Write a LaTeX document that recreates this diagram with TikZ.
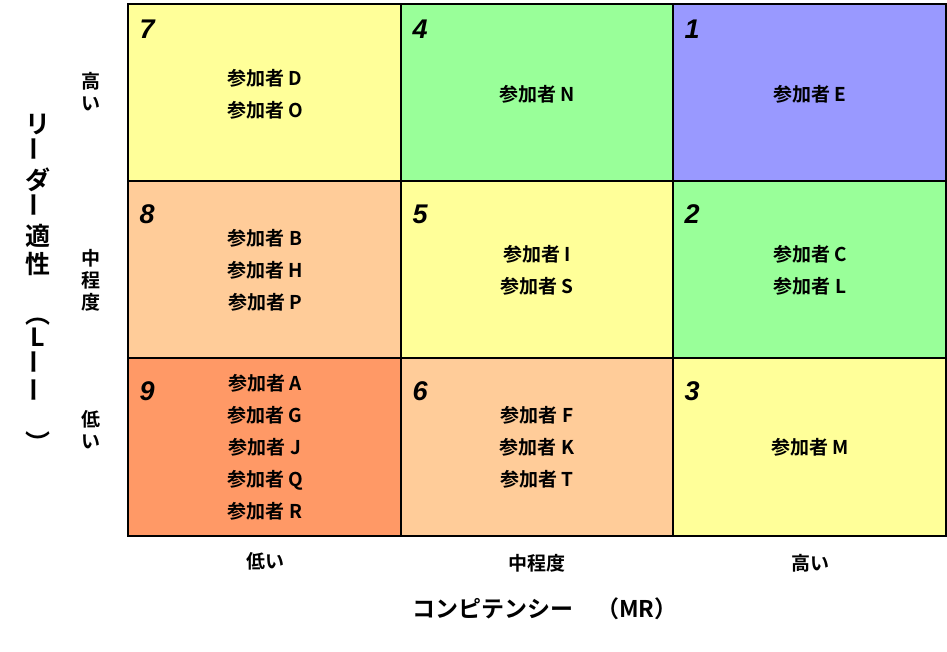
\documentclass[tikz,border=0pt]{standalone}
\usepackage{fontspec}
\newfontfamily\jp{Noto Sans CJK JP}[BoldFont={Noto Sans CJK JP Bold}]
\newfontfamily\num{Liberation Sans}
\definecolor{cy}{HTML}{FFFF99}
\definecolor{cg}{HTML}{99FF99}
\definecolor{cb}{HTML}{9999FF}
\definecolor{co}{HTML}{FFCC99}
\definecolor{cd}{HTML}{FF9966}
\begin{document}
\begin{tikzpicture}[x=1pt,y=-1pt,
  cell/.style={draw=black,line width=2pt},
  lab/.style={font=\jp\bfseries\fontsize{19}{32}\selectfont,align=center},
  numl/.style={font=\num\bfseries\itshape\fontsize{27}{27}\selectfont,anchor=north west},
  ax/.style={font=\jp\bfseries\fontsize{19}{22}\selectfont,align=center}]
\useasboundingbox (0,0) rectangle (947,652);
\fill[cy] (128,4) rectangle (401,181);
\fill[cg] (401,4) rectangle (673,181);
\fill[cb] (673,4) rectangle (946,181);
\fill[co] (128,181) rectangle (401,358);
\fill[cy] (401,181) rectangle (673,358);
\fill[cg] (673,181) rectangle (946,358);
\fill[cd] (128,358) rectangle (401,536);
\fill[co] (401,358) rectangle (673,536);
\fill[cy] (673,358) rectangle (946,536);
\draw[cell] (128,4) rectangle (946,536);
\draw[cell] (401,4) -- (401,536) (673,4) -- (673,536) (128,181) -- (946,181) (128,358) -- (946,358);
\node[numl] (n7) at (136,16) {7};
\node[numl] (n4) at (409,16) {4};
\node[numl] (n1) at (681,16) {1};
\node[numl] (n8) at (136,201) {8};
\node[numl] (n5) at (409,201) {5};
\node[numl] (n2) at (681,201) {2};
\node[numl] (n9) at (136,378) {9};
\node[numl] (n6) at (409,378) {6};
\node[numl] (n3) at (681,378) {3};
\node[lab] (c7) at (265,94) {参加者 D\\参加者 O};
\node[lab] (c4) at (537,94) {参加者 N};
\node[lab] (c1) at (810,94) {参加者 E};
\node[lab] (c8) at (265,270) {参加者 B\\参加者 H\\参加者 P};
\node[lab] (c5) at (537,270) {参加者 I\\参加者 S};
\node[lab] (c2) at (810,270) {参加者 C\\参加者 L};
\node[lab] (c9) at (265,447) {参加者 A\\参加者 G\\参加者 J\\参加者 Q\\参加者 R};
\node[lab] (c6) at (537,447) {参加者 F\\参加者 K\\参加者 T};
\node[lab] (c3) at (810,447) {参加者 M};
\node[ax] (xl) at (265,561) {低い};
\node[ax] (xm) at (537,563) {中程度};
\node[ax] (xh) at (810,563) {高い};
\node[ax] (yh) at (91,92) {高\\い};
\node[ax] (ym) at (91,280) {中\\程\\度};
\node[ax] (yl) at (91,430) {低\\い};
\node[font=\jp\bfseries\fontsize{23}{23}\selectfont] (xt) at (545,609) {コンピテンシー　（MR）};
\node[font=\jp\bfseries\fontsize{25}{28}\selectfont,align=center,inner sep=0pt] (yt) at (38,285)
 {リ\\\rotatebox{90}{ー}\\ダ\\\rotatebox{90}{ー}\\適\\性\\\rotatebox{-90}{（}\\L\\\rotatebox{90}{ー}\\\rotatebox{90}{ー}\\\rotatebox{-90}{）}};
\end{tikzpicture}
\end{document}
